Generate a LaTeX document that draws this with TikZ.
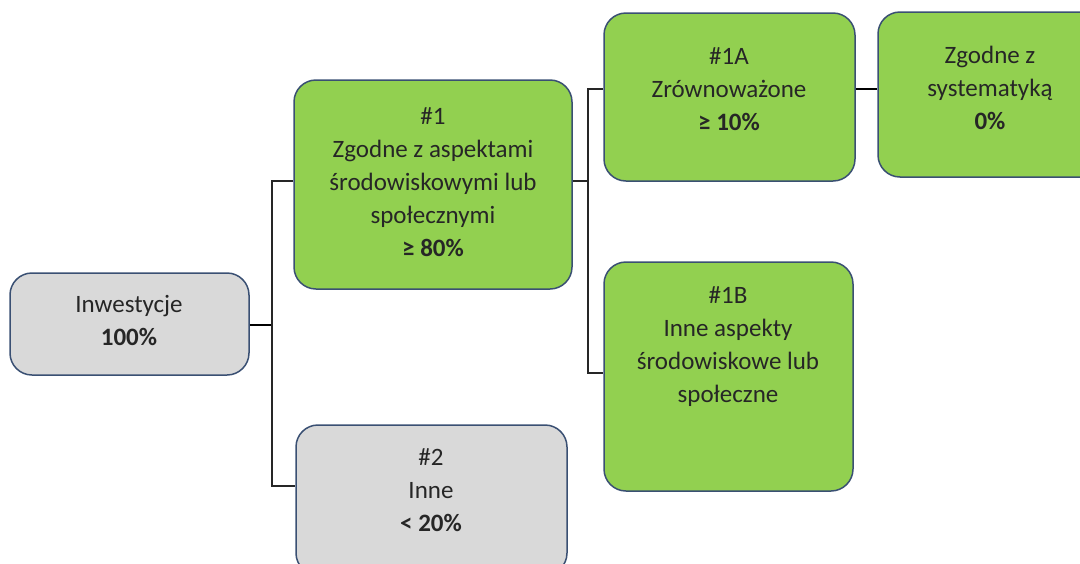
\documentclass[tikz,border=0pt]{standalone}
\usepackage{fontspec}
\setmainfont{Carlito}
\definecolor{boxgreen}{HTML}{92D050}
\definecolor{boxgray}{HTML}{D9D9D9}
\definecolor{boxline}{HTML}{3A5073}
\definecolor{txt}{HTML}{262626}
\tikzset{
  box/.style={draw=boxline, line width=1.5pt, rounded corners=22pt, inner sep=0pt},
  greenbox/.style={box, fill=boxgreen},
  graybox/.style={box, fill=boxgray},
  lbl/.style={align=center, text=txt, font=\fontsize{25}{33}\selectfont, inner sep=0pt},
  conn/.style={draw=black!85, line width=1.8pt},
  thickconn/.style={draw=black, line width=2.6pt}
}
\begin{document}
\begin{tikzpicture}[x=1pt,y=-1pt]
\useasboundingbox (0,0) rectangle (1080,563);
% boxes
\node[graybox, minimum width=239pt, minimum height=102pt] (inw) at (129.5,324) {};
\node[greenbox, minimum width=278pt, minimum height=209pt] (n1) at (433,184.5) {};
\node[graybox, minimum width=271pt, minimum height=150pt] (n2) at (431.5,500) {};
\node[greenbox, minimum width=251pt, minimum height=168pt] (n1a) at (729.5,97) {};
\node[greenbox, minimum width=224pt, minimum height=165pt] (zg) at (990,94.5) {};
\node[greenbox, minimum width=249pt, minimum height=229pt] (n1b) at (728.5,376.5) {};
% labels
\node[lbl] (tinw) at (129,320) {Inwestycje\\\textbf{100\%}};
\node[lbl] (tn1) at (433,182) {\#1\\Zgodne z aspektami\\środowiskowymi lub\\społecznymi\\\textbf{≥ 80\%}};
\node[lbl] (tn2) at (431,490) {\#2\\Inne\\\textbf{< 20\%}};
\node[lbl] (tn1a) at (729,89) {\#1A\\Zrównoważone\\\textbf{≥ 10\%}};
\node[lbl] (tzg) at (990,88) {Zgodne z\\systematyką\\\textbf{0\%}};
\node[lbl] (tn1b) at (728,347) {\#1B\\Inne aspekty\\środowiskowe lub\\społeczne};
% junctions
\coordinate (j1) at (272,325);
\coordinate (j1t) at (272,181);
\coordinate (j1b) at (272,486);
\coordinate (j2) at (588,181);
\coordinate (j2t) at (588,89);
\coordinate (j2b) at (588,373);
% connectors
\draw[thickconn] (inw.east |- j1) -- (j1);
\draw[conn] (n1.west |- j1t) -- (j1t) -- (j1b) -- (n2.west |- j1b);
\draw[conn] (n1.east |- j2) -- (j2);
\draw[conn] (n1a.west |- j2t) -- (j2t) -- (j2b) -- (n1b.west |- j2b);
\draw[thickconn] (n1a.east |- j2t) -- (zg.west |- j2t);
\end{tikzpicture}
\end{document}
